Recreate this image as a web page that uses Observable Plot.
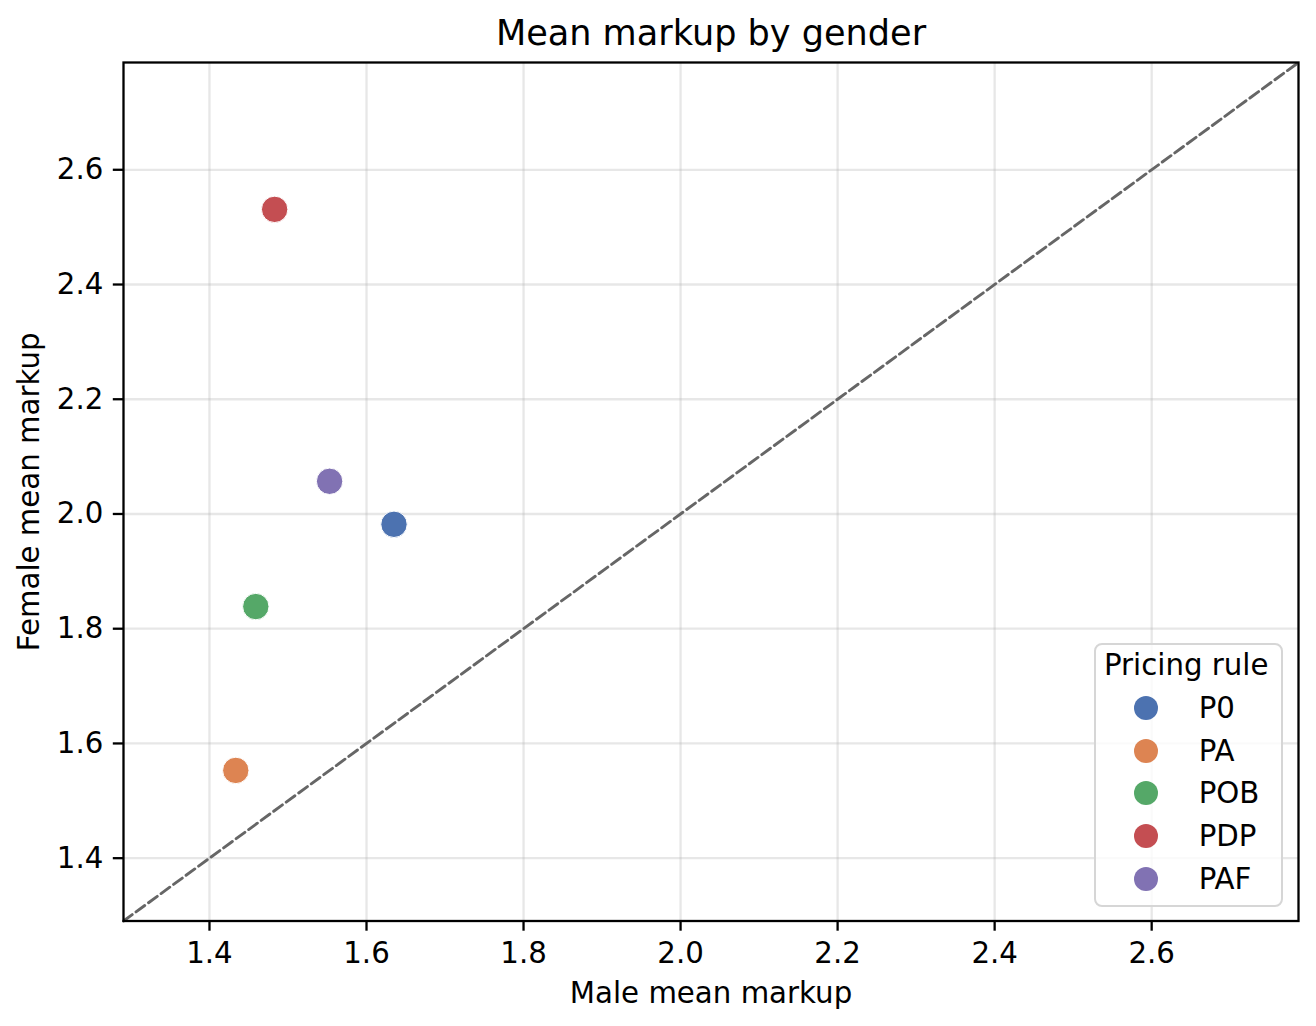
<!DOCTYPE html>
<html>
<head>
<meta charset="utf-8">
<script src="https://cdn.jsdelivr.net/npm/d3@7"></script>
<script src="https://cdn.jsdelivr.net/npm/@observablehq/plot@0.6"></script>
<style>
  html, body { margin: 0; padding: 0; background: white; }
  #wrap { position: relative; width: 1316px; height: 1026px; font-family: "DejaVu Sans", sans-serif; }
  #legend { position: absolute; left: 1094px; top: 643px; width: 189px; height: 264px;
            box-sizing: border-box; border: 2.3px solid #d6d6d6; border-radius: 8px; background: rgba(255,255,255,0.8); }
  .lg-title { position: absolute; left: 0; width: 100%; text-align: center; font-size: 29.25px; line-height: 29.25px; color: #000; white-space: nowrap; }
  .lg-dot { position: absolute; width: 24px; height: 24px; border-radius: 50%; }
  .lg-text { position: absolute; font-size: 29.25px; line-height: 29.25px; color: #000; white-space: nowrap; }
</style>
</head>
<body>
<div id="wrap"></div>
<script>
const categories = ["P0", "PA", "POB", "PDP", "PAF"];
const maleMarkup = [1.635, 1.4335, 1.459, 1.483, 1.553];
const femaleMarkup = [1.982, 1.553, 1.8386, 2.531, 2.057];
const colors = ["#4c72b0", "#dd8452", "#55a868", "#c44e52", "#8172b3"];
const tickValues = [1.4, 1.6, 1.8, 2.0, 2.2, 2.4, 2.6];
const axisDomain = [1.2905, 2.787];
const titleText = "Mean markup by gender";
const xLabel = "Male mean markup";
const yLabel = "Female mean markup";
const legendTitle = "Pricing rule";

const data = categories.map((c, i) => ({rule: c, male: maleMarkup[i], female: femaleMarkup[i]}));
const diag = axisDomain.map(v => ({x: v, y: v}));
const fmt = d3.format(".1f");

const chart = Plot.plot({
  width: 1316,
  height: 1026,
  marginLeft: 123,
  marginRight: 18,
  marginTop: 62,
  marginBottom: 105.5,
  style: {fontFamily: "DejaVu Sans, sans-serif", fontSize: "29.25px", color: "#000", background: "white"},
  x: {domain: axisDomain},
  y: {domain: axisDomain},
  color: {domain: categories, range: colors},
  marks: [
    Plot.gridX(tickValues, {stroke: "#b0b0b0", strokeOpacity: 0.3, strokeWidth: 2.3}),
    Plot.gridY(tickValues, {stroke: "#b0b0b0", strokeOpacity: 0.3, strokeWidth: 2.3}),
    Plot.line(diag, {x: "x", y: "y", stroke: "#666666", strokeWidth: 2.9, strokeDasharray: "10.8,4.7"}),
    Plot.dot(data, {x: "male", y: "female", fill: "rule", r: 13.2, stroke: "white", strokeWidth: 1, fillOpacity: 1}),
    Plot.frame({stroke: "black", strokeWidth: 2.3}),
    Plot.axisX({ticks: tickValues, tickFormat: fmt, tickSize: 10.2, tickPadding: 11, strokeWidth: 2.3, label: null, fontSize: 29.25}),
    Plot.axisY({ticks: tickValues, tickFormat: fmt, tickSize: 10.2, tickPadding: 10, strokeWidth: 2.3, label: null, fontSize: 29.25}),
    Plot.text([titleText], {frameAnchor: "top", lineAnchor: "middle", textAnchor: "middle", dy: -28.7, fontSize: 35.1, fill: "black"}),
    Plot.text([xLabel], {frameAnchor: "bottom", lineAnchor: "middle", textAnchor: "middle", dy: 73, fontSize: 29.25, fill: "black"}),
    Plot.text([yLabel], {frameAnchor: "left", lineAnchor: "middle", textAnchor: "middle", dx: -94, rotate: -90, fontSize: 29.25, fill: "black"})
  ]
});

const wrap = document.getElementById("wrap");
wrap.appendChild(chart);

// Legend overlay built from the category and colour arrays
const legend = document.createElement("div");
legend.id = "legend";
const boxTop = 643, boxLeft = 1094, bw = 2.3, capOff = 14.1;
const t = document.createElement("div");
t.className = "lg-title";
t.textContent = legendTitle;
t.style.top = (665.7 - capOff - boxTop - bw) + "px";
t.style.left = "-" + bw + "px";
legend.appendChild(t);
categories.forEach((c, i) => {
  const cy = 708.5 + i * 42.6;
  const dot = document.createElement("div");
  dot.className = "lg-dot";
  dot.style.background = colors[i];
  dot.style.left = (1146.7 - 12 - boxLeft - bw) + "px";
  dot.style.top = (cy - 12 - boxTop - bw) + "px";
  legend.appendChild(dot);
  const tx = document.createElement("div");
  tx.className = "lg-text";
  tx.textContent = c;
  tx.style.left = (1199 - boxLeft - bw) + "px";
  tx.style.top = (cy - capOff - boxTop - bw) + "px";
  legend.appendChild(tx);
});
wrap.appendChild(legend);
</script>
</body>
</html>
